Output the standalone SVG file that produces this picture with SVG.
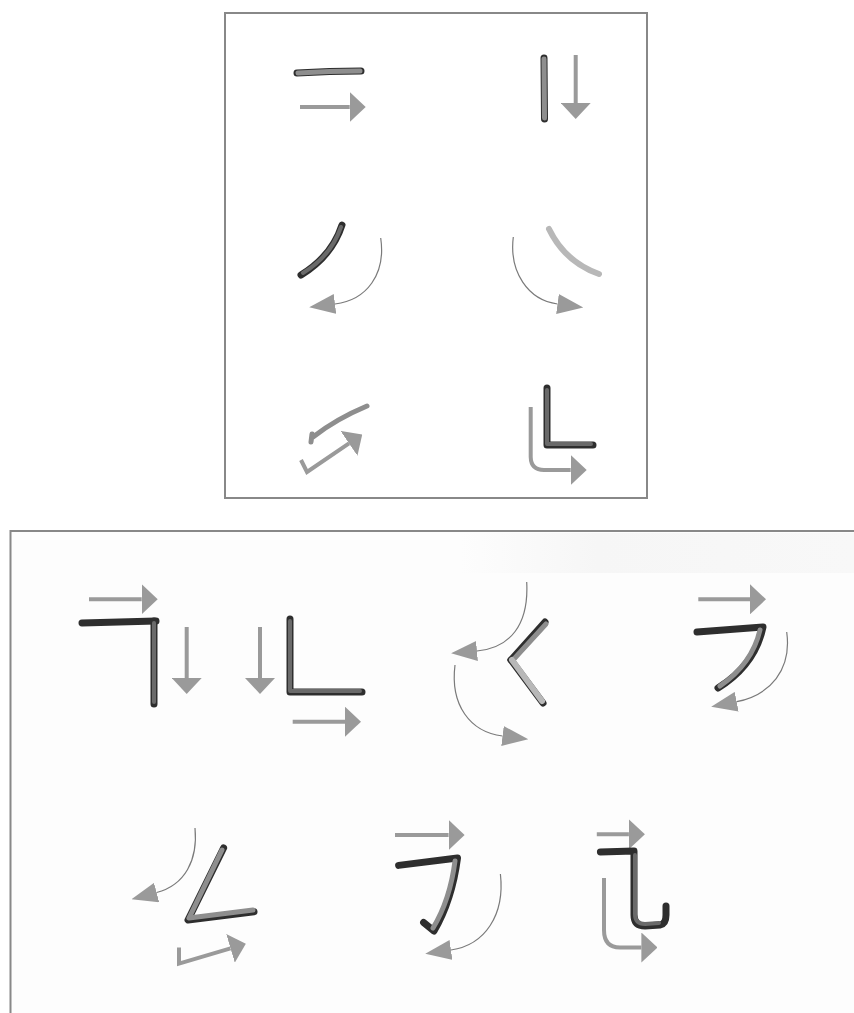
<svg xmlns="http://www.w3.org/2000/svg" width="854" height="1013" viewBox="0 0 854 1013">
<defs>
<marker id="hs" viewBox="0 -15 16 30" markerWidth="16" markerHeight="30" refX="0" refY="0" orient="auto" markerUnits="userSpaceOnUse"><path d="M0,-15 L16,0 L0,15 z" fill="#9a9a9a"/></marker>
<marker id="hc" viewBox="0 -10 26 20" markerWidth="26" markerHeight="20" refX="0" refY="0" orient="auto" markerUnits="userSpaceOnUse"><path d="M0,-10 L26,0 L0,10 z" fill="#9a9a9a"/></marker>
<linearGradient id="band" x1="0" y1="0" x2="1" y2="0"><stop offset="0" stop-color="#f6f6f6" stop-opacity="0"/><stop offset="0.35" stop-color="#f6f6f6"/><stop offset="1" stop-color="#f8f8f8"/></linearGradient>
</defs>
<style>
.frame{fill:none;stroke:#888;stroke-width:2}
.arr{fill:none;stroke:#9a9a9a;stroke-width:4;marker-end:url(#hs)}
.thin{fill:none;stroke:#7a7a7a;stroke-width:1.2;marker-end:url(#hc)}
.sdark{fill:none;stroke:#2e2e2e;stroke-width:7;stroke-linecap:round;stroke-linejoin:round}
.sfill{fill:none;stroke:#6a6a6a;stroke-width:4;stroke-linecap:round;stroke-linejoin:round}
.sgray{fill:none;stroke:#8e8e8e;stroke-width:5;stroke-linecap:round;stroke-linejoin:round}
.slight{fill:none;stroke:#b8b8b8;stroke-width:6;stroke-linecap:round;stroke-linejoin:round}
</style>
<rect width="854" height="1013" fill="#ffffff"/>
<rect x="11" y="532" width="843" height="481" fill="#fdfdfd"/>
<rect x="460" y="533" width="394" height="40" fill="url(#band)"/>
<rect x="225" y="13" width="422" height="485" class="frame"/>
<path d="M10.5,1013 L10.5,531 L854,531" class="frame"/>

<g id="heng">
<path d="M297,73 Q330,71 361,71" class="sdark" stroke-width="6" stroke="#555"/>
<path d="M298,73 Q330,71 360,71" class="sgray" stroke-width="4" stroke="#7c7c7c"/>
<path d="M300,107 L349.7,107" class="arr"/>
</g>
<g id="shu">
<path d="M544,58 L544.5,119" class="sdark" stroke-width="7" stroke="#444"/>
<path d="M544,59 L544.5,118" class="sgray" stroke-width="4" stroke="#777"/>
<path d="M575.7,55 L575.7,103" class="arr"/>
</g>
<g id="pie">
<path d="M342,225 Q332,256 301,275" class="sdark" stroke-width="6"/>
<path d="M341,227 Q331,256 303,273" class="sfill" stroke-width="3" stroke="#555"/>
<path d="M380.7,238 C386,274 367,300 335,304" class="thin"/>
</g>
<g id="na">
<path d="M549,229 Q565,262 599,274" class="slight"/>
<path d="M513.3,237 C509,272 528,300 557.5,304" class="thin"/>
</g>
<g id="ti">
<path d="M311,442 L312,434 M313,437 Q336,419 367,406" class="sgray"/>
<path d="M301,460 L307,472 L349,443.4" class="arr"/>
</g>
<g id="shuzhe">
<path d="M547,388 L547,445 L593,445" class="sdark" stroke-width="7" stroke="#333"/>
<path d="M547,390 L547,444 L591,444" class="sfill" stroke-width="3" stroke="#555"/>
<path d="M530.7,407 L530.7,457 Q531,470 544,470 L570.7,470" class="arr"/>
</g>

<g id="hengzhe">
<path d="M89,599.3 L141.7,599.3" class="arr"/>
<path d="M82,623 L156,621" class="sdark" stroke-width="5"/>
<path d="M154,621 L154,704" class="sdark" stroke-width="7" stroke="#333"/>
<path d="M154,623 L154,702" class="sfill" stroke-width="3" stroke="#666"/>
<path d="M186.7,627 L186.7,678" class="arr"/>
</g>
<g id="shuzhe2">
<path d="M260,627 L260,678" class="arr"/>
<path d="M290,619 L290,692 L362,692" class="sdark" stroke-width="7" stroke="#333"/>
<path d="M290,621 L290,691 L360,691" class="sfill" stroke-width="3" stroke="#444"/>
<path d="M292.7,721.7 L345,721.7" class="arr"/>
</g>
<g id="piezhe">
<path d="M526.7,582 C529,625 510,648 477,651" class="thin"/>
<path d="M455,665 C450,705 470,732 502.5,736" class="thin"/>
<path d="M545,622 L511,660" class="sdark" stroke-width="6"/>
<path d="M546,624 L513,660" class="sgray" stroke-width="3" stroke="#888"/>
<path d="M511,660 L543,703" class="sdark" stroke-width="6" stroke="#555"/>
<path d="M512,660 L542,701" class="slight" stroke-width="4"/>
</g>
<g id="hengpie">
<path d="M698.3,599.3 L750,599.3" class="arr"/>
<path d="M697,632 L763,627 Q755,665 718,688" class="sdark" stroke-width="6"/>
<path d="M760,630 Q752,664 720,686" class="sgray" stroke-width="3" stroke="#888"/>
<path d="M786.7,632 C792,670 770,695 736.7,701.7" class="thin"/>
</g>
<g id="pieti">
<path d="M195,828 C198,860 185,885 156.6,892.5" class="thin"/>
<path d="M223.6,848 L188,920 L254,911.8" class="sdark" stroke-width="6" stroke="#444"/>
<path d="M222,850 L189,918 L253,910" class="sgray" stroke-width="4" stroke="#8a8a8a"/>
<path d="M179,947.5 L179,963.6 L230.5,948.3" class="arr"/>
</g>
<g id="hengpiegou">
<path d="M395,835 L448.6,835" class="arr"/>
<path d="M398.6,865.4 L457.5,858 Q452,900 434,931 L423.6,922.5" class="sdark" stroke-width="6"/>
<path d="M455,861 Q450,900 433,928" class="sgray" stroke-width="3" stroke="#888"/>
<path d="M500.4,874 C505,915 485,945 451,950" class="thin"/>
</g>
<g id="hengzhewan">
<path d="M596.8,834.3 L628.9,834.3" class="arr"/>
<path d="M600.4,852 L634,851 L634,915 Q634,926 645,926 L660,925 Q666,924 666,915 L666,906" class="sdark" stroke-width="7" stroke="#2a2a2a"/>
<path d="M635,855 L635,914 Q635,924 645,924 L659,923" class="sfill" stroke-width="3" stroke="#444"/>
<path d="M604,878 L604,930 Q604,947.5 620,947.5 L641.4,947.5" class="arr"/>
</g>
</svg>
